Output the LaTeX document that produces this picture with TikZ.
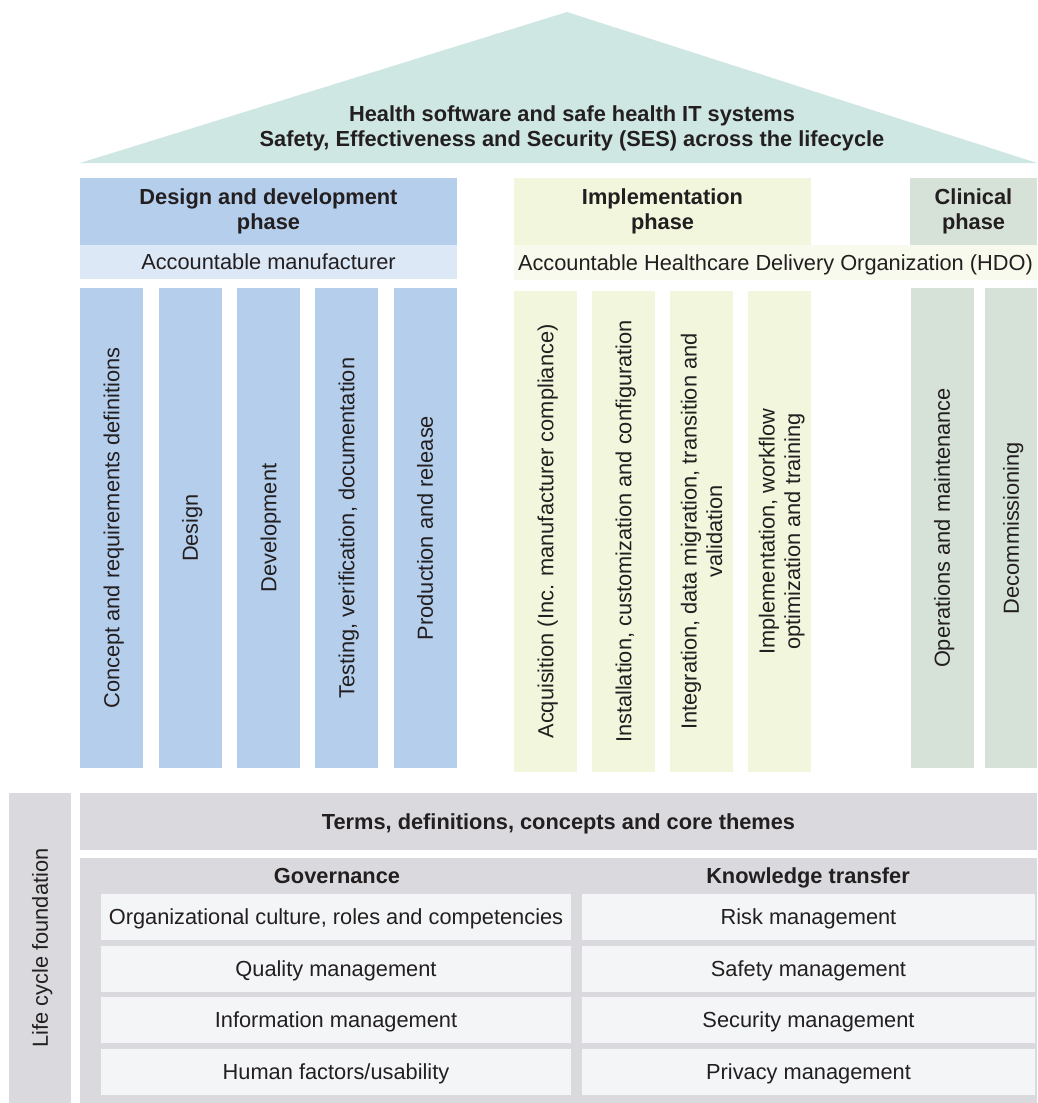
\documentclass[tikz,border=0pt]{standalone}
\usepackage{fontspec}
\setmainfont{Liberation Sans}
\usetikzlibrary{positioning}
\definecolor{roofgreen}{RGB}{207,231,226}
\definecolor{designblue}{RGB}{180,206,236}
\definecolor{manufblue}{RGB}{220,232,246}
\definecolor{implgreen}{RGB}{241,246,220}
\definecolor{hdogreen}{RGB}{247,250,236}
\definecolor{clingreen}{RGB}{214,225,215}
\definecolor{basegray}{RGB}{218,217,221}
\definecolor{cellgray}{RGB}{244,245,247}
\definecolor{ink}{RGB}{35,31,32}

\tikzset{
  block/.style={inner sep=0pt, outer sep=0pt, align=center, text=ink, text depth=0pt,
                font=\fontsize{21.8}{25.5}\selectfont},
  head/.style={block, font=\fontsize{21.8}{25.5}\selectfont\bfseries},
  phase/.style={head, text depth=, minimum height=67, anchor=north west},
  pillar/.style={block, rotate=90, minimum height=63}
}

\begin{document}
\begin{tikzpicture}[x=1pt, y=-1pt]
\useasboundingbox (0,0) rectangle (1037,1103);

  %% Roof
  \fill[roofgreen] (80,163) -- (567,12) -- (1037,163) -- cycle;
  \node[head] (roof) at (572,126) {Health software and safe health IT systems\\
        Safety, Effectiveness and Security (SES) across the lifecycle};

  %% Phase headers
  \node[phase, fill=designblue, minimum width=377] (design) at (80,178) {Design and development\\phase};
  \node[block, fill=manufblue, minimum width=377, minimum height=34, below=0pt of design]
        (manuf) {Accountable manufacturer};
  \node[phase, fill=implgreen, minimum width=297] (impl) at (514,178) {Implementation\\phase};
  \node[phase, fill=clingreen, minimum width=127] (clin) at (910,178) {Clinical\\phase};
  \node[block, fill=hdogreen, minimum width=523, minimum height=35, anchor=north west]
        (hdo) at (514,245) {Accountable Healthcare Delivery Organization (HDO)};

  %% Pillars of the design phase
  \foreach \x/\n/\t in {111.5/concept/Concept and requirements definitions,
                        190/dsgn/Design,
                        268.5/devel/Development,
                        346.5/test/{Testing, verification, documentation},
                        425/prod/Production and release}{
    \node[pillar, fill=designblue, minimum width=480] (\n) at (\x,528) {\t};
  }

  %% Pillars of the implementation phase
  \foreach \x/\n/\t in {545.5/acq/Acquisition (Inc. manufacturer compliance),
                        623.5/inst/{Installation, customization and configuration},
                        701.5/integ/{Integration, data migration, transition and\\validation},
                        779.5/train/{Implementation, workflow\\optimization and training}}{
    \node[pillar, fill=implgreen, minimum width=481] (\n) at (\x,531.5) {\t};
  }

  %% Pillars of the clinical phase
  \node[pillar, fill=clingreen, minimum width=480] (oper) at (942,528) {Operations and maintenance};
  \node[pillar, fill=clingreen, minimum width=480, minimum height=52] (decom) at (1011,528) {Decommissioning};

  %% Foundation
  \node[pillar, fill=basegray, minimum width=310, minimum height=62] (life) at (40,948) {Life cycle foundation};
  \node[head, fill=basegray, minimum width=957, minimum height=57, anchor=north west]
        (terms) at (80,793) {Terms, definitions, concepts and core themes};
  \node[block, fill=basegray, minimum width=957, minimum height=245, anchor=north west]
        (panel) at (80,858) {};
  \node[head] (gov) at (337,876) {Governance};
  \node[head] (know) at (808,876) {Knowledge transfer};

  \foreach \y/\n/\l/\r in {917/a/{Organizational culture, roles and competencies}/Risk management,
                           968.5/b/Quality management/Safety management,
                           1020/c/Information management/Security management,
                           1071.5/d/{Human factors/usability}/Privacy management}{
    \node[block, fill=cellgray, minimum width=470, minimum height=46] (gov\n) at (336,\y) {\l};
    \node[block, fill=cellgray, minimum width=453, minimum height=46] (know\n) at (808.5,\y) {\r};
  }

\end{tikzpicture}
\end{document}
